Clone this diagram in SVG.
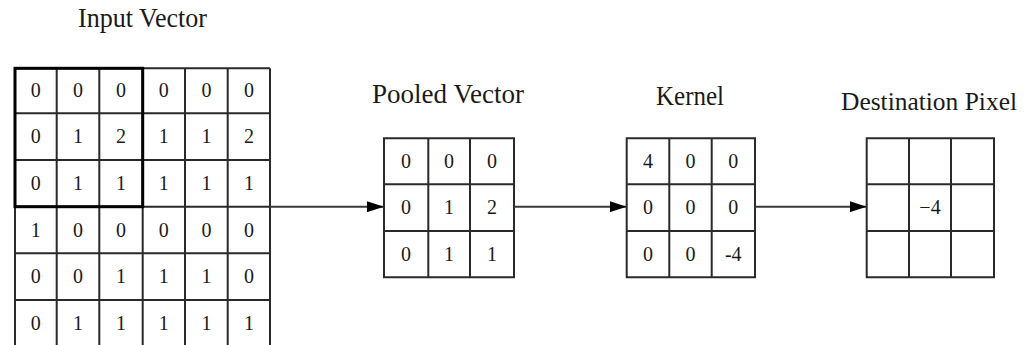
<svg xmlns="http://www.w3.org/2000/svg" width="1026" height="345" viewBox="0 0 1026 345">
<style>
.bg{fill:#ffffff}
.grid{fill:none;stroke:#2a2a2a;stroke-width:2}
.thick{fill:none;stroke:#000;stroke-width:3}
.title{font-family:"Liberation Serif","DejaVu Serif","Times New Roman",serif;font-size:27px;fill:#1a1a1a}
.num{font-family:"Liberation Serif","DejaVu Serif","Times New Roman",serif;font-size:20px;fill:#1a1a1a;text-anchor:middle}
.conn{stroke:#3a3a3a;stroke-width:2;fill:none}
</style>
<defs>
<marker id="arr" markerWidth="17" markerHeight="11" refX="17" refY="5.5" orient="auto" markerUnits="userSpaceOnUse">
<path d="M0,0 L17,5.5 L0,11 Z" fill="#000"/>
</marker>
</defs>
<rect class="bg" x="0" y="0" width="1026" height="345"/>

<g id="input-vector">
<text class="title" x="78" y="27" textLength="129" lengthAdjust="spacingAndGlyphs">Input Vector</text>
<path class="grid" d="M15,68.3V350 M56.7,68.3V350 M99.3,68.3V350 M142.7,68.3V350 M185,68.3V350 M227.7,68.3V350 M270,68.3V350 M15,68.3H270 M15,113.3H270 M15,160H270 M15,206.7H270 M15,253.3H270 M15,300H270"/>
<rect class="thick" x="15" y="68.3" width="127.7" height="138.4"/>
<g class="num">
<text x="35.8" y="97">0</text><text x="78" y="97">0</text><text x="121" y="97">0</text><text x="163.8" y="97">0</text><text x="206.5" y="97">0</text><text x="249" y="97">0</text>
<text x="35.8" y="143">0</text><text x="78" y="143">1</text><text x="121" y="143">2</text><text x="163.8" y="143">1</text><text x="206.5" y="143">1</text><text x="249" y="143">2</text>
<text x="35.8" y="190">0</text><text x="78" y="190">1</text><text x="121" y="190">1</text><text x="163.8" y="190">1</text><text x="206.5" y="190">1</text><text x="249" y="190">1</text>
<text x="35.8" y="236.5">1</text><text x="78" y="236.5">0</text><text x="121" y="236.5">0</text><text x="163.8" y="236.5">0</text><text x="206.5" y="236.5">0</text><text x="249" y="236.5">0</text>
<text x="35.8" y="283">0</text><text x="78" y="283">0</text><text x="121" y="283">1</text><text x="163.8" y="283">1</text><text x="206.5" y="283">1</text><text x="249" y="283">0</text>
<text x="35.8" y="330">0</text><text x="78" y="330">1</text><text x="121" y="330">1</text><text x="163.8" y="330">1</text><text x="206.5" y="330">1</text><text x="249" y="330">1</text>
</g>
</g>

<g id="pooled-vector">
<text class="title" x="372" y="103" textLength="152" lengthAdjust="spacingAndGlyphs">Pooled Vector</text>
<path class="grid" d="M384,138.3H514V277.3H384Z M428.3,138.3V277.3 M470,138.3V277.3 M384,184.3H514 M384,231H514"/>
<g class="num">
<text x="406" y="168">0</text><text x="449" y="168">0</text><text x="492" y="168">0</text>
<text x="406" y="214">0</text><text x="449" y="214">1</text><text x="492" y="214">2</text>
<text x="406" y="260.5">0</text><text x="449" y="260.5">1</text><text x="492" y="260.5">1</text>
</g>
</g>

<g id="kernel">
<text class="title" x="656" y="105" textLength="68" lengthAdjust="spacingAndGlyphs">Kernel</text>
<path class="grid" d="M626.7,138.3H755V277.3H626.7Z M669.3,138.3V277.3 M711.7,138.3V277.3 M626.7,184.3H755 M626.7,231H755"/>
<g class="num">
<text x="648" y="168">4</text><text x="690.5" y="168">0</text><text x="733.3" y="168">0</text>
<text x="648" y="214">0</text><text x="690.5" y="214">0</text><text x="733.3" y="214">0</text>
<text x="648" y="260.5">0</text><text x="690.5" y="260.5">0</text><text x="733.3" y="260.5">-4</text>
</g>
</g>

<g id="destination-pixel">
<text class="title" x="841" y="110" style="font-size:25px" textLength="176" lengthAdjust="spacingAndGlyphs">Destination Pixel</text>
<path class="grid" d="M866.7,138.3H994V277.3H866.7Z M909,138.3V277.3 M951,138.3V277.3 M866.7,184.3H994 M866.7,231H994"/>
<text class="num" x="930" y="214">−4</text>
</g>

<g id="connectors">
<line class="conn" x1="270" y1="206.7" x2="384" y2="206.7" marker-end="url(#arr)"/>
<line class="conn" x1="514" y1="206.7" x2="626.7" y2="206.7" marker-end="url(#arr)"/>
<line class="conn" x1="755" y1="206.7" x2="866.7" y2="206.7" marker-end="url(#arr)"/>
</g>
</svg>
